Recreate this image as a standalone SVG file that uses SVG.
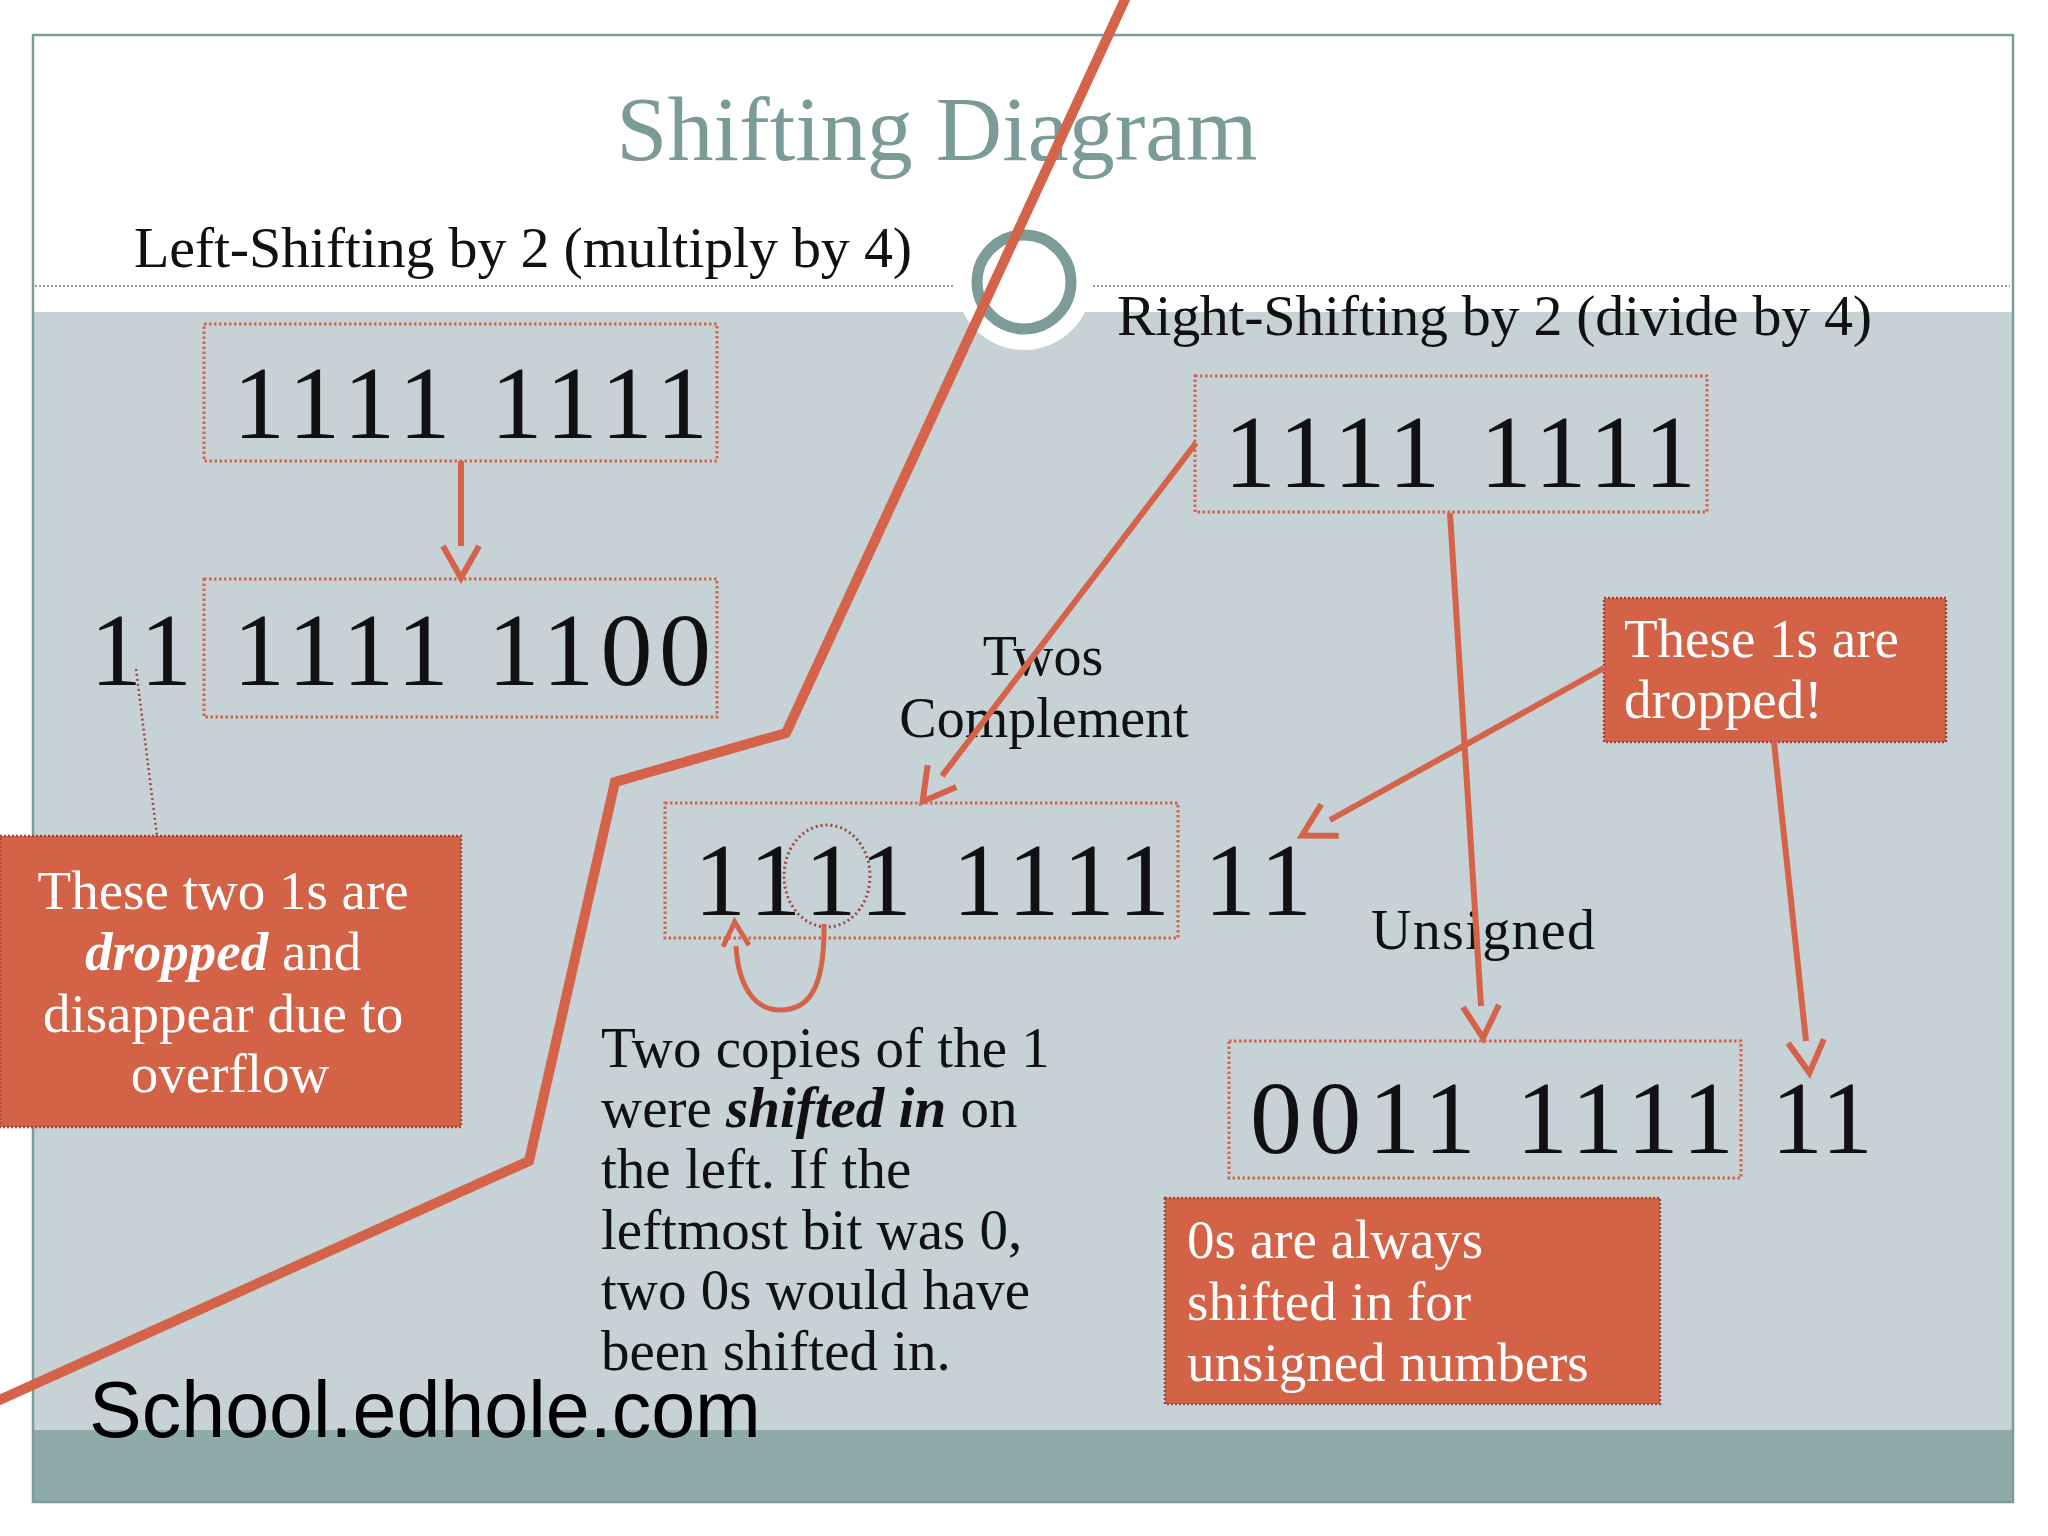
<svg xmlns="http://www.w3.org/2000/svg" width="2048" height="1536" viewBox="0 0 2048 1536">
<style>
.serif{font-family:"Liberation Serif","Times New Roman",serif;fill:#111}
.lbl{font-size:58px}
.num{font-size:104px}
.body{font-size:57px}
.mid{font-size:56px}
.call{font-family:"Liberation Serif","Times New Roman",serif;font-size:55px;fill:#ffffff}
.box{fill:none;stroke:#d4634a;stroke-width:3;stroke-dasharray:2.5 2.5}
.callbox{fill:#d36247;stroke:#9e4535;stroke-width:2.5;stroke-dasharray:2 2}
.arrow{fill:none;stroke:#d4634a;stroke-width:6;marker-end:url(#vhead)}
.bi{font-weight:bold;font-style:italic}
</style>
<defs>
<marker id="vhead" markerUnits="userSpaceOnUse" viewBox="0 0 36 40" markerWidth="36" markerHeight="40" refX="2" refY="20" orient="auto" overflow="visible">
<path d="M2,2 L34,20 L2,38" fill="none" stroke="#d4634a" stroke-width="6" stroke-linejoin="miter"/>
</marker>
<marker id="vsmall" markerUnits="userSpaceOnUse" viewBox="0 0 28 30" markerWidth="28" markerHeight="30" refX="2" refY="15" orient="auto" overflow="visible">
<path d="M2,2 L26,15 L2,28" fill="none" stroke="#d4634a" stroke-width="5"/>
</marker>
</defs>

<g id="background">
<rect x="0" y="0" width="2048" height="1536" fill="#ffffff"/>
<rect x="33" y="312" width="1980" height="1118" fill="#c6d2d6"/>
<rect x="33" y="1430" width="1980" height="72" fill="#8eaaa9"/>
<rect x="33" y="35" width="1980" height="1467" fill="none" stroke="#7c9c99" stroke-width="2.5"/>
<line x1="35" y1="286" x2="955" y2="286" stroke="#8f9d9d" stroke-width="2" stroke-dasharray="2 2"/>
<line x1="1093" y1="286" x2="2010" y2="286" stroke="#8f9d9d" stroke-width="2" stroke-dasharray="2 2"/>
<circle cx="1024" cy="282" r="68" fill="#ffffff"/>
<circle cx="1024" cy="282" r="47" fill="none" stroke="#7c9c99" stroke-width="11"/>
</g>

<g id="title">
<text x="937" y="160" text-anchor="middle" style="font-family:'Liberation Serif','Times New Roman',serif;font-size:92px;fill:#7b9b98">Shifting Diagram</text>
</g>

<g id="left-heading"><text class="serif lbl" x="134" y="267" textLength="778">Left-Shifting by 2 (multiply by 4)</text></g>
<g id="right-heading"><text class="serif lbl" x="1117" y="335" textLength="755">Right-Shifting by 2 (divide by 4)</text></g>

<g id="left-original">
<rect class="box" x="204" y="324" width="513" height="137"/>
<text class="serif num" x="233" y="438" textLength="475">1111 1111</text>
</g>

<g id="left-shifted">
<rect class="box" x="204" y="579" width="513" height="138"/>
<text class="serif num" x="233" y="685" textLength="478">1111 1100</text>
<text class="serif num" x="90" y="685" textLength="102">11</text>
</g>

<g id="left-callout">
<rect class="callbox" x="0" y="836" width="461" height="291"/>
<text class="call" text-anchor="middle">
<tspan x="230" y="909">These two 1s are</tspan>
<tspan x="230" y="970"><tspan class="bi">dropped</tspan> and</tspan>
<tspan x="230" y="1032">disappear due to</tspan>
<tspan x="230" y="1092">overflow</tspan>
</text>
</g>

<g id="right-original">
<rect class="box" x="1195" y="376" width="512" height="136"/>
<text class="serif num" x="1224" y="487" textLength="472">1111 1111</text>
</g>

<g id="twos-label">
<text class="serif mid" text-anchor="middle"><tspan x="1043" y="675">Twos</tspan><tspan x="1044" y="737">Complement</tspan></text>
</g>

<g id="twos-result">
<rect class="box" x="665" y="803" width="513" height="135"/>
<text class="serif num" x="694" y="915" textLength="476">1111 1111</text>
<text class="serif num" x="1204" y="915" textLength="108">11</text>
<ellipse cx="827" cy="876" rx="43" ry="51" fill="none" stroke="#a0483a" stroke-width="3" stroke-dasharray="2 3"/>
</g>

<g id="twos-note">
<text class="serif body">
<tspan x="601" y="1067">Two copies of the 1</tspan>
<tspan x="601" y="1127">were <tspan class="bi">shifted in</tspan> on</tspan>
<tspan x="601" y="1188">the left. If the</tspan>
<tspan x="601" y="1249">leftmost bit was 0,</tspan>
<tspan x="601" y="1309">two 0s would have</tspan>
<tspan x="601" y="1370">been shifted in.</tspan>
</text>
</g>

<g id="right-callout">
<rect class="callbox" x="1604" y="598" width="342" height="144"/>
<text class="call"><tspan x="1624" y="657">These 1s are</tspan><tspan x="1624" y="718">dropped!</tspan></text>
</g>

<g id="unsigned-label"><text class="serif mid" x="1371" y="949" textLength="224">Unsigned</text></g>

<g id="unsigned-result">
<rect class="box" x="1229" y="1041" width="512" height="137"/>
<text class="serif num" x="1250" y="1153" textLength="484">0011 1111</text>
<text class="serif num" x="1771" y="1153" textLength="102">11</text>
</g>

<g id="bottom-callout">
<rect class="callbox" x="1165" y="1198" width="495" height="206"/>
<text class="call"><tspan x="1187" y="1258">0s are always</tspan><tspan x="1187" y="1320">shifted in for</tspan><tspan x="1187" y="1381">unsigned numbers</tspan></text>
</g>

<g id="watermark"><text x="89" y="1437" style="font-family:'Liberation Sans',Arial,sans-serif;font-size:79px;fill:#000">School.edhole.com</text></g>

<g id="connectors">
<line x1="136" y1="669" x2="157" y2="836" stroke="#a0483a" stroke-width="2.5" stroke-dasharray="2 3"/>
<line class="arrow" x1="461" y1="461" x2="461" y2="546"/>
<line class="arrow" x1="1196" y1="443" x2="942" y2="776"/>
<line class="arrow" x1="1450" y1="513" x2="1481" y2="1006"/>
<line class="arrow" x1="1774" y1="742" x2="1806" y2="1041"/>
<line class="arrow" x1="1604" y1="668" x2="1330" y2="820"/>
<path d="M824,924 C825,995 805,1010 780,1010 C752,1010 738,982 736,946" fill="none" stroke="#d4634a" stroke-width="5" marker-end="url(#vsmall)"/>
</g>

<g id="overlay-stroke">
<polyline points="1127,-5 786,733 615,782 529,1161 -5,1402" fill="none" stroke="#d4634a" stroke-width="10" stroke-linejoin="miter"/>
</g>
</svg>
